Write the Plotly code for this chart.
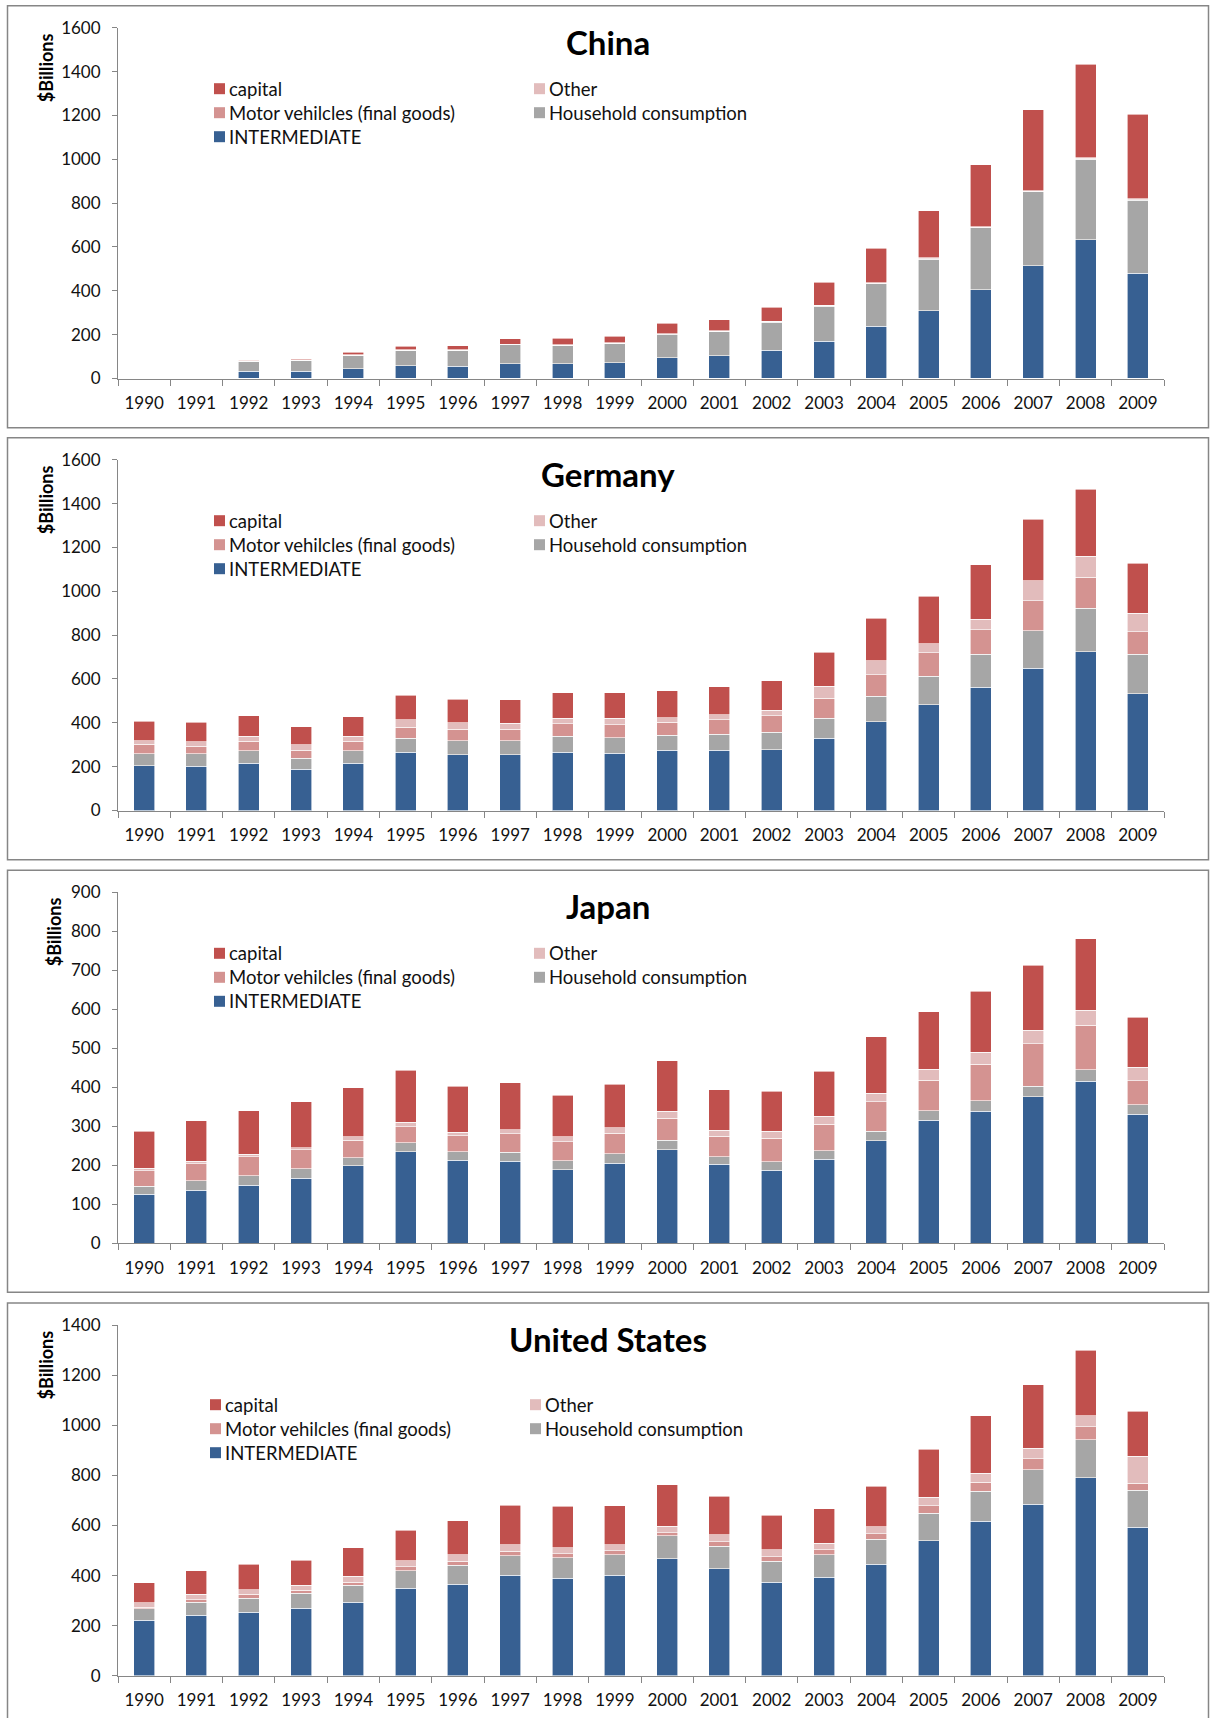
import plotly.graph_objects as go

W, H = 1210, 1718

years = [str(y) for y in range(1990, 2010)]

series_names = ["INTERMEDIATE", "Household consumption", "Motor vehilcles (final goods)", "Other", "capital"]
series_colors = ["#376092", "#A6A6A6", "#D49391", "#E2BCBC", "#C0504D"]

# China ($ billions); no data for 1990-1991
china_intermediate = [None, None, 33, 33, 44, 58, 56, 67, 67, 72, 94, 103, 128, 170, 239, 309, 405, 514, 632, 479]
china_household = [None, None, 46, 51, 63, 71, 73, 88, 85, 89, 108, 112, 129, 160, 193, 236, 283, 337, 369, 335]
china_motor = [None, None, 0, 0, 0, 0, 0, 0, 0, 0, 1, 1, 1, 1, 2, 2, 2, 3, 3, 2]
china_other = [None, None, 1, 1, 1, 1, 1, 1, 1, 1, 1, 1, 2, 2, 2, 3, 3, 3, 3, 3]
china_capital = [None, None, 4, 6, 12, 18, 19, 25, 30, 31, 47, 51, 66, 107, 159, 214, 281, 368, 427, 386]

# Germany
germany_intermediate = [205, 202, 216, 189, 216, 266, 254, 254, 266, 261, 274, 274, 278, 329, 405, 482, 563, 648, 724, 532]
germany_household = [54, 57, 56, 50, 56, 64, 64, 64, 72, 70, 70, 73, 79, 92, 115, 131, 149, 173, 198, 181]
germany_motor = [44, 35, 44, 35, 43, 50, 53, 53, 57, 60, 59, 68, 76, 90, 99, 106, 112, 136, 141, 102]
germany_other = [16, 19, 22, 26, 23, 35, 29, 27, 26, 29, 20, 22, 25, 56, 65, 41, 49, 92, 96, 85]
germany_capital = [89, 90, 94, 82, 89, 110, 108, 108, 116, 116, 123, 127, 134, 154, 194, 218, 249, 280, 307, 227]

# Japan
japan_intermediate = [125, 136, 149, 167, 198, 234, 213, 210, 188, 205, 240, 202, 187, 215, 263, 315, 338, 375, 415, 331]
japan_household = [21, 24, 24, 24, 21, 23, 21, 23, 23, 24, 24, 19, 22, 22, 24, 25, 27, 28, 30, 24]
japan_motor = [40, 43, 49, 48, 45, 42, 41, 47, 49, 53, 56, 53, 60, 68, 75, 78, 94, 108, 114, 61]
japan_other = [6, 7, 6, 6, 9, 11, 10, 11, 13, 14, 18, 16, 18, 20, 23, 28, 31, 35, 38, 35]
japan_capital = [95, 104, 112, 117, 125, 133, 118, 120, 106, 112, 130, 104, 102, 116, 145, 148, 156, 167, 184, 128]

# United States
us_intermediate = [221, 241, 253, 269, 293, 349, 365, 401, 389, 402, 467, 428, 373, 393, 446, 539, 616, 684, 790, 593]
us_household = [46, 53, 57, 60, 68, 71, 77, 79, 83, 82, 91, 90, 85, 90, 98, 109, 121, 138, 153, 147]
us_motor = [7, 9, 15, 12, 13, 16, 16, 18, 15, 15, 13, 17, 18, 20, 23, 31, 35, 44, 51, 28]
us_other = [17, 22, 18, 20, 24, 23, 25, 25, 24, 25, 26, 27, 27, 27, 28, 33, 37, 43, 43, 108]
us_capital = [80, 94, 103, 101, 113, 121, 136, 158, 166, 154, 165, 154, 138, 137, 161, 193, 228, 253, 262, 179]

panels = [
    ("China", [china_intermediate, china_household, china_motor, china_other, china_capital], 1600, 200),
    ("Germany", [germany_intermediate, germany_household, germany_motor, germany_other, germany_capital], 1600, 200),
    ("Japan", [japan_intermediate, japan_household, japan_motor, japan_other, japan_capital], 900, 100),
    ("United States", [us_intermediate, us_household, us_motor, us_other, us_capital], 1400, 200),
]

FONT = "Lato, 'Open Sans', sans-serif"
AXIS_GREY = "#868686"

# pixel layout of each panel
panel_tops = [5.7, 437.7, 870.3, 1303.0]
plot_top_off = 22.0      # from panel top to the highest y tick
plot_height = 350.8
plot_x0, plot_x1 = 118, 1164
frame_x0, frame_x1 = 7.5, 1208.5
frame_h = 422


def px(x):
    return x / W


def py(y):
    return 1 - y / H


fig = go.Figure()
shapes = []
annotations = []

for i, (title, values, ymax, dtick) in enumerate(panels):
    n = "" if i == 0 else str(i + 1)
    top = panel_tops[i]
    for name, color, vals in zip(series_names, series_colors, values):
        fig.add_trace(go.Bar(
            x=years, y=vals, name=name,
            marker=dict(color=color, line=dict(color="rgba(255,255,255,0.75)", width=0.8)),
            xaxis="x" + n, yaxis="y" + n, showlegend=False,
        ))

    y_top = top + plot_top_off
    y_bot = y_top + plot_height
    fig.layout["xaxis" + n] = dict(
        domain=[px(plot_x0), px(plot_x1)], anchor="y" + n, type="category",
        automargin=False,
        showline=True, linecolor=AXIS_GREY, linewidth=1,
        ticks="outside", tickson="boundaries", ticklen=6, tickcolor=AXIS_GREY,
        showgrid=False, tickfont=dict(family=FONT, size=17, color="#111111"),
        ticklabelstandoff=9,
    )
    fig.layout["yaxis" + n] = dict(
        domain=[py(y_bot), py(y_top)], anchor="x" + n,
        automargin=False,
        range=[0, ymax], tick0=0, dtick=dtick,
        showline=True, linecolor=AXIS_GREY, linewidth=1,
        ticks="outside", ticklen=5, tickcolor=AXIS_GREY,
        showgrid=False, zeroline=False,
        tickfont=dict(family=FONT, size=17, color="#111111"),
        ticklabelstandoff=8,
    )

    # panel frame
    shapes.append(dict(type="rect", xref="paper", yref="paper",
                       x0=px(frame_x0), x1=px(frame_x1), y0=py(top + frame_h), y1=py(top),
                       line=dict(color=AXIS_GREY, width=1.5), fillcolor="rgba(0,0,0,0)", layer="below"))

    # panel title
    annotations.append(dict(text=f"<b>{title}</b>", xref="paper", yref="paper",
                            x=px(608), y=py(top + 36), xanchor="center", yanchor="middle",
                            showarrow=False, font=dict(family=FONT, size=33, color="#000000")))

    # y-axis title
    ytx = 54 if ymax < 1000 else 45.5
    annotations.append(dict(text="<b>$Billions</b>", xref="paper", yref="paper",
                            x=px(ytx), y=py(top + 62), xanchor="center", yanchor="middle",
                            textangle=-90, showarrow=False,
                            font=dict(family=FONT, size=18, color="#000000")))

    # legend: two columns, top of stack first
    if i == 3:
        col_x = [210, 530]
        row0 = top + 101.7
    else:
        col_x = [214, 534]
        row0 = top + 83
    legend_items = [(4, 0, 0), (3, 1, 0), (2, 0, 1), (1, 1, 1), (0, 0, 2)]
    for s_idx, col, row in legend_items:
        cx = col_x[col]
        cy = row0 + 24 * row
        shapes.append(dict(type="rect", xref="paper", yref="paper",
                           x0=px(cx), x1=px(cx + 11), y0=py(cy + 5.5), y1=py(cy - 5.5),
                           line=dict(width=0), fillcolor=series_colors[s_idx]))
        annotations.append(dict(text=series_names[s_idx], xref="paper", yref="paper",
                                x=px(cx + 13), y=py(cy), xanchor="left", yanchor="middle",
                                showarrow=False,
                                font=dict(family=FONT, size=18.5, color="#111111")))

fig.update_layout(
    width=W, height=H, autosize=False,
    margin=dict(l=0, r=0, t=0, b=0, pad=0),
    paper_bgcolor="white", plot_bgcolor="white",
    barmode="stack", bargap=0.6,
    shapes=shapes, annotations=annotations,
)

fig.write_html("out.html")
